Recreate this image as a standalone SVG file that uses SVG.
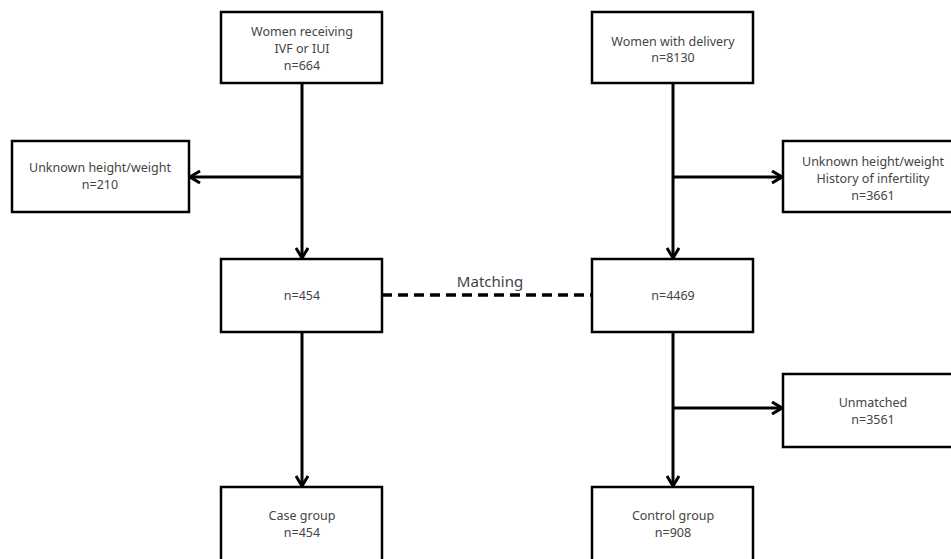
<svg xmlns="http://www.w3.org/2000/svg" width="951" height="559" viewBox="0 0 951 559">
<defs>
<marker id="arr" viewBox="0 0 12 14" refX="11" refY="7" markerWidth="12" markerHeight="14" markerUnits="userSpaceOnUse" orient="auto">
<path d="M1,1 L11,7 L1,13" fill="none" stroke="#000" stroke-width="3"/>
</marker>
<style>
.box{fill:#fff;stroke:#000;stroke-width:2.5}
.t{font-family:"Noto Sans","Liberation Sans",sans-serif;font-size:12.5px;fill:#444;text-anchor:middle}
.c{fill:none;stroke:#000;stroke-width:3}
</style>
</defs>
<rect width="951" height="559" fill="#fff"/>
<g id="connectors">
<line class="c" x1="302" y1="83" x2="302" y2="258" marker-end="url(#arr)"/>
<line class="c" x1="302" y1="177" x2="190" y2="177" marker-end="url(#arr)"/>
<line class="c" x1="673" y1="83" x2="673" y2="258" marker-end="url(#arr)"/>
<line class="c" x1="673" y1="177" x2="782" y2="177" marker-end="url(#arr)"/>
<line class="c" x1="302" y1="332" x2="302" y2="486" marker-end="url(#arr)"/>
<line class="c" x1="673" y1="332" x2="673" y2="486" marker-end="url(#arr)"/>
<line class="c" x1="673" y1="408" x2="782" y2="408" marker-end="url(#arr)"/>
<line class="c" x1="382" y1="295" x2="592" y2="295" stroke-dasharray="10 6" style="stroke-width:3.5"/>
<text x="490" y="287" style="font-family:'Noto Sans','Liberation Sans',sans-serif;font-size:15px;fill:#444;text-anchor:middle">Matching</text>
</g>
<g id="n1"><rect class="box" x="221" y="12" width="161" height="71"/>
<text class="t" x="302" y="36">Women receiving</text><text class="t" x="302" y="53">IVF or IUI</text><text class="t" x="302" y="70">n=664</text></g>
<g id="n2"><rect class="box" x="12" y="141" width="177" height="71"/>
<text class="t" x="100" y="172">Unknown height/weight</text><text class="t" x="100" y="189">n=210</text></g>
<g id="n3"><rect class="box" x="221" y="259" width="161" height="73"/>
<text class="t" x="302" y="300">n=454</text></g>
<g id="n4"><rect class="box" x="221" y="487" width="161" height="80"/>
<text class="t" x="302" y="520">Case group</text><text class="t" x="302" y="537">n=454</text></g>
<g id="n5"><rect class="box" x="592" y="12" width="161" height="71"/>
<text class="t" x="673" y="46">Women with delivery</text><text class="t" x="673" y="62">n=8130</text></g>
<g id="n6"><rect class="box" x="783" y="141" width="180" height="71"/>
<text class="t" x="873" y="166">Unknown height/weight</text><text class="t" x="873" y="183">History of infertility</text><text class="t" x="873" y="200">n=3661</text></g>
<g id="n7"><rect class="box" x="592" y="259" width="161" height="73"/>
<text class="t" x="673" y="300">n=4469</text></g>
<g id="n8"><rect class="box" x="783" y="374" width="180" height="73"/>
<text class="t" x="873" y="407">Unmatched</text><text class="t" x="873" y="424">n=3561</text></g>
<g id="n9"><rect class="box" x="592" y="487" width="161" height="80"/>
<text class="t" x="673" y="520">Control group</text><text class="t" x="673" y="537">n=908</text></g>
</svg>
